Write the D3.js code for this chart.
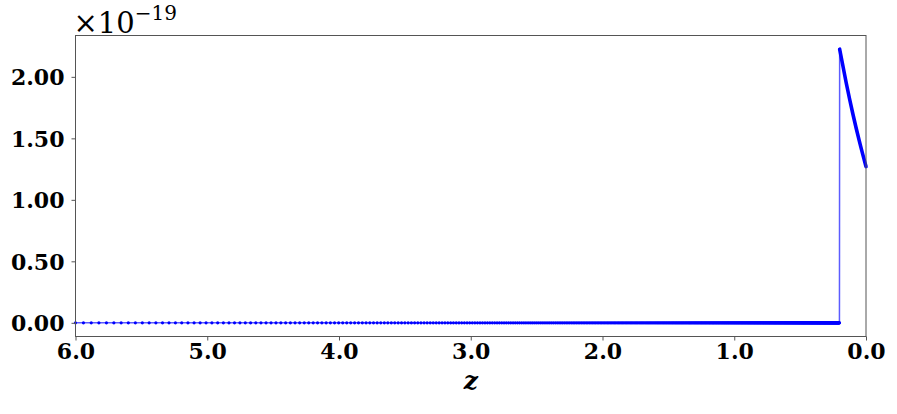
<!DOCTYPE html>
<html>
<head>
<meta charset="utf-8">
<script src="https://cdn.jsdelivr.net/npm/d3@7"></script>
<style>
  body { margin: 0; background: #fff; }
  .tick text { font-family: "DejaVu Serif", serif; font-weight: bold; font-size: 22px; fill: #000; }
</style>
</head>
<body>
<div id="chart"></div>
<script>
var w = 897,
    h = 414;
var margin = {top: 35.5, right: 31, bottom: 77.5, left: 75.5};

// values in units of 1e-19
var zeroScaleStart = 1 / 7,        // scale factor a = 1/(1+z) at z = 6
    zeroScaleEnd = 0.8325,         // last zero sample, just above z = 0.2
    zeroScaleStep = 0.00124;
var zeroValue = 0;

var curveZ = [0.2, 0.15, 0.1, 0.05, 0.0];
var curveV = [2.225, 1.95, 1.70, 1.475, 1.27];

var xTicks = [6, 5, 4, 3, 2, 1, 0];
var yTicks = [0, 0.5, 1.0, 1.5, 2.0];

// sample grid of the zero segment (uniform in scale factor)
var zeroZ = d3.range(zeroScaleStart, zeroScaleEnd, zeroScaleStep).map(function (a) {
    return 1 / a - 1;
});
var zeroPoints = zeroZ.map(function (z) { return {z: z, v: zeroValue}; });
var curvePoints = curveZ.map(function (z, i) { return {z: z, v: curveV[i]}; });

var svg = d3.select("#chart").append("svg")
    .attr("width", w)
    .attr("height", h);

var x = d3.scaleLinear()
    .domain([6, 0])
    .range([margin.left, w - margin.right]);

var vMax = d3.max(curveV), vMin = 0;
var pad = (vMax - vMin) * 0.05;
var y = d3.scaleLinear()
    .domain([vMin - pad, vMax + pad])
    .range([h - margin.bottom, margin.top]);

var line = d3.line()
    .x(function (d) { return x(d.z); })
    .y(function (d) { return y(d.v); });

// thin connecting line through all samples
svg.append("path")
    .datum(zeroPoints.concat(curvePoints.slice(0, 1)))
    .attr("fill", "none")
    .attr("stroke", "#3333ff")
    .attr("stroke-opacity", 0.8)
    .attr("stroke-width", 1.5)
    .attr("d", line);

// dense markers on the non-zero part draw as a thick band
svg.append("path")
    .datum(curvePoints)
    .attr("fill", "none")
    .attr("stroke", "#0000ff")
    .attr("stroke-width", 3.6)
    .attr("stroke-linecap", "round")
    .attr("d", line.curve(d3.curveMonotoneX));

svg.append("g")
    .selectAll("circle")
    .data(zeroPoints)
    .enter()
    .append("circle")
    .attr("cx", function (d) { return x(d.z); })
    .attr("cy", function (d) { return y(d.v); })
    .attr("r", 1.6)
    .attr("fill", "#0000ff");

// frame
svg.append("rect")
    .attr("x", margin.left)
    .attr("y", margin.top)
    .attr("width", w - margin.right - margin.left)
    .attr("height", h - margin.bottom - margin.top)
    .attr("fill", "none")
    .attr("stroke", "#555")
    .attr("stroke-width", 1);

var xAxis = svg.append("g")
    .attr("transform", "translate(0," + (h - margin.bottom) + ")")
    .call(d3.axisBottom(x).tickValues(xTicks).tickSize(4).tickPadding(3)
        .tickFormat(d3.format(".1f")));

var yAxis = svg.append("g")
    .attr("transform", "translate(" + margin.left + ",0)")
    .call(d3.axisLeft(y).tickValues(yTicks).tickSize(4).tickPadding(7)
        .tickFormat(d3.format(".2f")));

[xAxis, yAxis].forEach(function (g) {
    g.select(".domain").remove();
    g.selectAll(".tick line").attr("stroke", "#555");
});
yAxis.selectAll(".tick text").attr("dy", "0.36em");

// axis label
svg.append("text")
    .attr("x", (margin.left + w - margin.right) / 2)
    .attr("y", 389)
    .attr("text-anchor", "middle")
    .style("font-family", "'DejaVu Serif', serif")
    .style("font-style", "italic")
    .style("font-weight", "bold")
    .style("font-size", "25px")
    .text("z");

// offset text
var offset = svg.append("text")
    .attr("x", margin.left - 2)
    .attr("y", 33)
    .style("font-family", "'DejaVu Serif', serif")
    .style("font-size", "29px");
offset.append("tspan").text("\u00d710");
offset.append("tspan")
    .attr("dy", -13)
    .style("font-size", "20px")
    .text("\u221219");
</script>
</body>
</html>
